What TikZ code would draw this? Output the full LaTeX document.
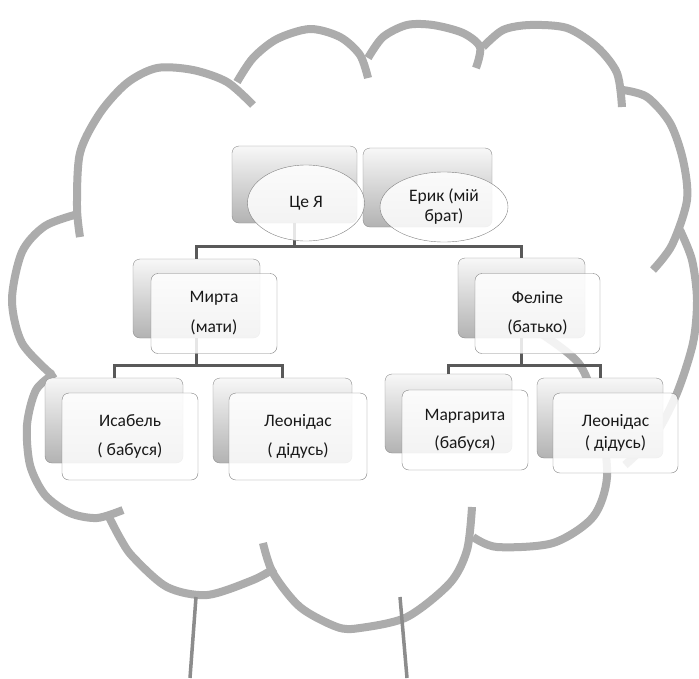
\documentclass[tikz,border=0pt]{standalone}
\usepackage{fontspec}
\setmainfont{Carlito}
\usetikzlibrary{shapes.geometric}

\begin{document}
\begin{tikzpicture}[x=1pt, y=-1pt,
  back/.style={draw=gray!90, rounded corners=7pt, top color=gray!6, bottom color=gray!60, minimum width=127pt, minimum height=79pt, inner sep=0pt},
  front/.style={draw=gray, rounded corners=7pt, fill=white, fill opacity=0.85, text opacity=1, text=black!90, minimum width=126pt, minimum height=80pt, inner sep=0pt, align=center, font=\fontsize{17.5}{29}\selectfont},
  oval/.style={ellipse, draw=gray, fill=white, fill opacity=0.85, text opacity=1, text=black!90, inner sep=0pt, align=center, font=\fontsize{17.5}{20}\selectfont},
  link/.style={draw=black!65, line width=3pt},
  cloud line/.style={draw=gray!65, line width=8pt},
  trunk/.style={draw=gray!90, line width=3.5pt}]

\fill[white] (0,0) rectangle (699,678);
\useasboundingbox (0,0) rectangle (699,678);

% -------- cloud -----------
\draw[cloud line] plot[smooth] coordinates {(80,237) (77,207) (80,153) (100,113) (127,83) (157,68) (193,70) (227,82) (253,105)};
\draw[cloud line] plot[smooth] coordinates {(237,82) (253,58) (277,39) (310,29) (340,37) (360,55) (368,78)};
\draw[cloud line] plot[smooth] coordinates {(368,58) (383,37) (407,25) (433,25) (463,33) (480,47) (476,68)};
\draw[cloud line] plot[smooth] coordinates {(483,47) (503,30) (530,25) (567,28) (597,47) (617,73) (622,107)};
\draw[cloud line] plot[smooth] coordinates {(623,90) (647,97) (670,123) (683,160) (687,200) (672,245) (653,270)};
\draw[cloud line] plot[smooth] coordinates {(680,230) (692,260) (697,300) (693,343) (677,393) (655,435) (625,465)};
\draw[cloud line] plot[smooth] coordinates {(540,333) (580,365) (600,420) (607,477) (593,517) (553,543) (497,547) (473,537)};
\draw[cloud line] plot[smooth] coordinates {(263,543) (273,573) (300,607) (337,627) (360,628) (407,617) (450,583) (467,550) (472,507)};
\draw[cloud line] plot[smooth] coordinates {(107,513) (120,538) (133,557) (167,587) (207,595) (253,580) (275,568)};
\draw[cloud line] plot[smooth] coordinates {(55,373) (36,390) (27,425) (30,465) (45,495) (70,513) (97,518) (123,510)};
\draw[cloud line] plot[smooth] coordinates {(78,214) (45,226) (22,252) (12,300) (22,343) (52,375)};

% -------- trunk -----------
\draw[trunk] (196,597) -- (190,678);
\draw[trunk] (400,597) -- (407,678);

% -------- back boxes -----------
\node[back, minimum width=125pt, minimum height=77pt] (meBack)  at (294.5,184.5) {};
\node[back, minimum width=129pt] (broBack) at (427.5,187.5) {};
\node[back] (momBack) at (196.5,298.5) {};
\node[back, minimum height=80pt] (dadBack) at (521.5,298) {};
\node[back, minimum width=138pt, minimum height=85pt] (gm1Back) at (114,420.5) {};
\node[back, minimum width=139pt, minimum height=85pt] (gp1Back) at (282.5,420.5) {};
\node[back] (gm2Back) at (448.5,413.5) {};
\node[back, minimum width=126pt, minimum height=80pt] (gp2Back) at (600,418) {};

% -------- links -----------
\draw[link] (meBack.south) -- ++(0,23) -| (momBack.north);
\draw[link] (meBack.south) -- ++(0,23) -| (dadBack.north);
\draw[link] (momBack.south) -- ++(0,27) -| (gm1Back.north);
\draw[link] (momBack.south) -- ++(0,27) -| (gp1Back.north);
\draw[link] (dadBack.south) -- ++(0,27) -| (gm2Back.north);
\draw[link] (dadBack.south) -- ++(0,27) -| (gp2Back.north);

% -------- front shapes -----------
\node[oval, minimum width=117pt, minimum height=76pt] (me)  at (306,203) {Це Я};
\node[oval, minimum width=128pt, minimum height=70pt] (bro) at (444,207) {Ерик (мій\\брат)};
\node[front, font=\fontsize{17.5}{30}\selectfont] (mom) at (214,313.5) {Мирта\\(мати)};
\node[front, minimum width=125pt] (dad) at (537.5,313.5) {Феліпе\\(батько)};
\node[front, minimum width=136pt, minimum height=87pt] (gm1) at (130,436.5) {Исабель\\( бабуся)};
\node[front, minimum width=138pt, minimum height=87pt] (gp1) at (298,436.5) {Леонідас\\( дідусь)};
\node[front, font=\fontsize{17.5}{28}\selectfont] (gm2) at (465,430) {Маргарита\\(бабуся)};
\node[front, minimum width=125pt, font=\fontsize{17.5}{22}\selectfont] (gp2) at (615.5,433) {Леонідас\\( дідусь)};

\end{tikzpicture}
\end{document}
